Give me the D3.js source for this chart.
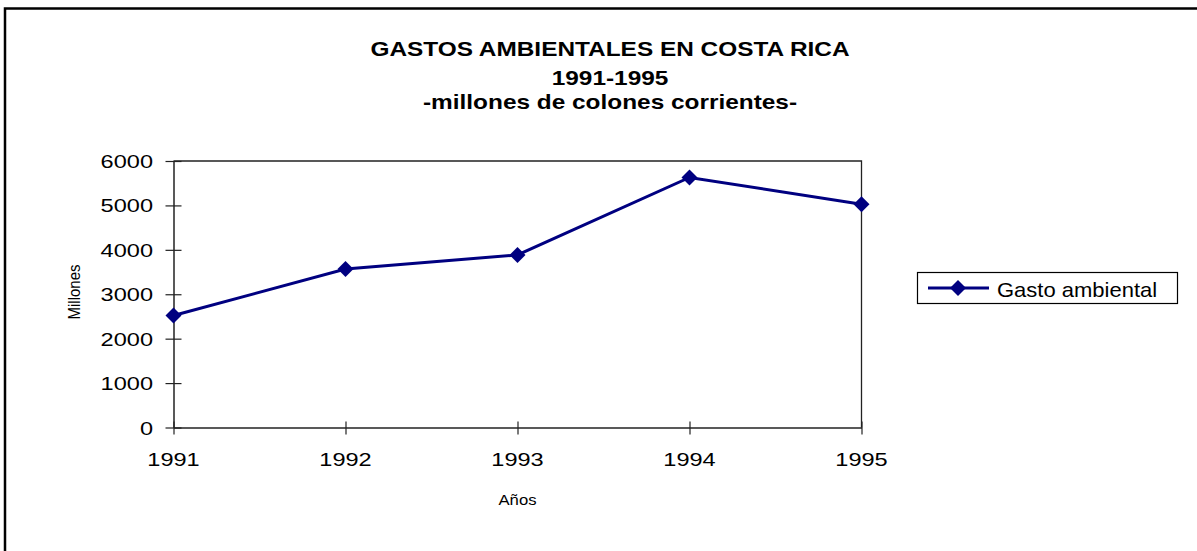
<!DOCTYPE html>
<html>
<head>
<meta charset="utf-8">
<script src="https://cdn.jsdelivr.net/npm/d3@7"></script>
<style>
  body { margin: 0; background: #fff; }
  text { font-family: "Liberation Sans", Arial, sans-serif; fill: #000; }
</style>
</head>
<body>
<div id="chart"></div>
<script>
var years = [1991, 1992, 1993, 1994, 1995];
var gasto = [2520, 3570, 3885, 5630, 5025];
var yTicks = [0, 1000, 2000, 3000, 4000, 5000, 6000];
var titleLines = ["GASTOS AMBIENTALES EN COSTA RICA", "1991-1995", "-millones de colones corrientes-"];
var seriesName = "Gasto ambiental";

var fullWidth = 1197;
var fullHeight = 551;
var plot = {left: 173.5, right: 861.5, top: 161, bottom: 427.5};
var stretch = 1.24; // the picture text is a bit wide

var svg = d3.select("#chart").append("svg")
  .attr("width", fullWidth).attr("height", fullHeight);

// outer frame of the chart
svg.append("rect")
  .attr("x", 5).attr("y", 8.5)
  .attr("width", 1210).attr("height", 570)
  .attr("fill", "none").attr("stroke", "#000").attr("stroke-width", 2.5);

function addText(x, y, str, size, anchor, weight, sx){
  return svg.append("text")
    .attr("transform", "translate(" + x + "," + y + ") scale(" + (sx || stretch) + ",1)")
    .attr("text-anchor", anchor)
    .style("font-size", size + "px")
    .style("font-weight", weight || "normal")
    .text(str);
}

// title
var titleY = [56, 85, 109];
titleLines.forEach(function(t, i){
  addText(610, titleY[i], t, 20, "middle", "bold", 1.22);
});

var xScale = d3.scalePoint().domain(years).range([plot.left, plot.right]);
var yScale = d3.scaleLinear().domain([0, 6000]).range([plot.bottom, plot.top]);

// plot border (top + right)
svg.append("path")
  .attr("d", "M" + plot.left + "," + plot.top + "H" + plot.right + "V" + plot.bottom)
  .attr("fill", "none").attr("stroke", "#222").attr("stroke-width", 1.3);

// y axis
var yAxis = d3.axisLeft(yScale).tickValues(yTicks).tickSizeInner(8).tickSizeOuter(0).tickPadding(0).tickFormat(d3.format("d"));
var gy = svg.append("g").attr("transform", "translate(" + plot.left + ",0)").call(yAxis);
gy.selectAll(".tick line").attr("x1", 8).attr("x2", -8);
gy.select(".domain").attr("stroke", "#222").attr("stroke-width", 1.5);
gy.selectAll(".tick line").attr("stroke", "#222").attr("stroke-width", 1.2);
gy.selectAll(".tick text").remove();
yTicks.forEach(function(v){
  addText(153, yScale(v) + 7, v, 19, "end");
});

// x axis
var xAxis = d3.axisBottom(xScale).tickSizeInner(7).tickSizeOuter(0).tickFormat(d3.format("d"));
var gx = svg.append("g").attr("transform", "translate(0," + plot.bottom + ")").call(xAxis);
gx.selectAll(".tick line").attr("y1", -6).attr("y2", 7).attr("stroke", "#222").attr("stroke-width", 1.2);
gx.select(".domain").attr("stroke", "#222").attr("stroke-width", 1.5);
gx.selectAll(".tick text").remove();
years.forEach(function(v){
  addText(xScale(v), 465.7, v, 19, "middle");
});

// axis titles
addText(517.5, 505, "Años", 14.5, "middle", "normal", 1.15);
svg.append("text")
  .attr("transform", "translate(80,292) rotate(-90) scale(1,1.15)")
  .attr("text-anchor", "middle")
  .style("font-size", "15px")
  .text("Millones");

// series
var navy = "#000080";
var line = d3.line().x(function(d, i){ return xScale(years[i]); }).y(function(d){ return yScale(d); });
svg.append("path").datum(gasto)
  .attr("d", line)
  .attr("fill", "none").attr("stroke", navy).attr("stroke-width", 3);

var diamond = "M0,-8L8,0L0,8L-8,0Z";
svg.selectAll(".marker").data(gasto).enter().append("path")
  .attr("class", "marker")
  .attr("d", diamond)
  .attr("transform", function(d, i){ return "translate(" + xScale(years[i]) + "," + yScale(d) + ")"; })
  .attr("fill", navy);

// legend
var lg = svg.append("g");
lg.append("rect")
  .attr("x", 917.5).attr("y", 272.5).attr("width", 260).attr("height", 31)
  .attr("fill", "#fff").attr("stroke", "#000").attr("stroke-width", 1.2);
lg.append("line")
  .attr("x1", 928).attr("x2", 989).attr("y1", 288).attr("y2", 288)
  .attr("stroke", navy).attr("stroke-width", 3);
lg.append("path").attr("d", diamond).attr("transform", "translate(958,288)").attr("fill", navy);
addText(997, 296.5, seriesName, 20, "start", "normal", 1.1);
</script>
</body>
</html>
